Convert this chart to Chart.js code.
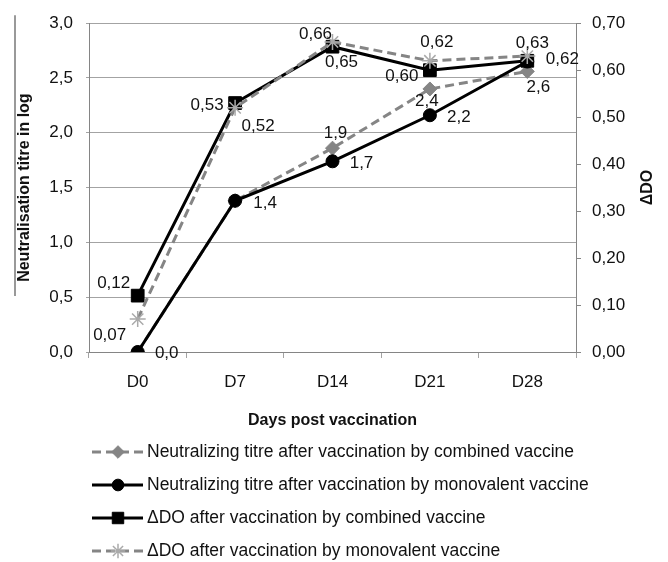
<!DOCTYPE html>
<html>
<head>
<meta charset="utf-8">
<script src="https://cdn.jsdelivr.net/npm/chart.js@4.4.1/dist/chart.umd.min.js"></script>
<style>
  body { margin: 0; background: #fff; }
  canvas { display: block; }
</style>
</head>
<body>
<canvas id="vaccine_chart" width="668" height="562"></canvas>
<script>
// data
const days = ['D0', 'D7', 'D14', 'D21', 'D28'];
const titreCombined = [0, 1.38, 1.86, 2.40, 2.56];
const titreMonovalent = [0, 1.38, 1.74, 2.16, 2.65];
const doCombined = [0.12, 0.53, 0.65, 0.60, 0.62];
const doMonovalent = [0.07, 0.52, 0.66, 0.62, 0.63];
const titreTicks = ['0,0', '0,5', '1,0', '1,5', '2,0', '2,5', '3,0'];
const doTicks = ['0,00', '0,10', '0,20', '0,30', '0,40', '0,50', '0,60', '0,70'];
const seriesNames = [
  'Neutralizing titre after vaccination by combined vaccine',
  'Neutralizing titre after vaccination by monovalent vaccine',
  '\u0394DO after vaccination by combined vaccine',
  '\u0394DO after vaccination by monovalent vaccine'
];

// where the value labels sit relative to each point (null = no label)
const labelOffsets = [
  [null, null, [3, -15], [-3, 12], [11, 16]],
  [[29, 1], [30, 3], [29, 2], [29, 2], null],
  [[-24, -12], [-28, 2], [9, 16], [-28, 6], [35, -1]],
  [[-28, 16], [23, 19], [-17, -8], [7, -18], [5, -13]]
];
const labelDecimals = [1, 1, 2, 2];

const FONT = "'Liberation Sans', Arial, sans-serif";
const GREY = '#858585';
const GRID = '#a3a3a3';

function fmt(v, d) {
  return v.toFixed(d).replace('.', ',');
}

// value labels, legend and the right axis title
const extras = {
  id: 'extras',
  afterDatasetsDraw(chart) {
    const ctx = chart.ctx;
    ctx.save();
    ctx.font = '17px ' + FONT;
    ctx.fillStyle = '#111';
    ctx.textAlign = 'center';
    ctx.textBaseline = 'middle';
    chart.data.datasets.forEach((ds, i) => {
      const meta = chart.getDatasetMeta(i);
      meta.data.forEach((pt, j) => {
        const off = labelOffsets[i][j];
        if (!off) return;
        ctx.fillText(fmt(ds.data[j], labelDecimals[i]), pt.x + off[0], pt.y + off[1]);
      });
    });
    ctx.restore();
  },
  afterDraw(chart) {
    const ctx = chart.ctx;
    const area = chart.chartArea;
    ctx.save();

    // right axis title, reads bottom to top
    ctx.font = 'bold 16px ' + FONT;
    ctx.fillStyle = '#111';
    ctx.textAlign = 'center';
    ctx.textBaseline = 'middle';
    ctx.translate(chart.width - 20, (area.top + area.bottom) / 2);
    ctx.rotate(-Math.PI / 2);
    ctx.fillText('\u0394DO', 0, 0);
    ctx.setTransform(1, 0, 0, 1, 0, 0);

    // stray rule beside the left title
    ctx.strokeStyle = '#777';
    ctx.lineWidth = 1.5;
    ctx.beginPath();
    ctx.moveTo(area.left - 74, area.top - 8);
    ctx.lineTo(area.left - 74, area.bottom - 56);
    ctx.stroke();

    // legend
    const top = area.bottom + 100;
    chart.data.datasets.forEach((ds, i) => {
      const y = top + i * 33;
      ctx.strokeStyle = ds.borderColor;
      ctx.lineWidth = ds.borderWidth;
      ctx.setLineDash(ds.borderDash || []);
      ctx.beginPath();
      ctx.moveTo(92, y);
      ctx.lineTo(143, y);
      ctx.stroke();
      ctx.setLineDash([]);
      ctx.fillStyle = ds.pointBackgroundColor;
      ctx.strokeStyle = ds.pointBorderColor;
      ctx.lineWidth = ds.pointBorderWidth;
      Chart.helpers.drawPoint(ctx, {
        pointStyle: ds.pointStyle,
        radius: ds.pointRadius * 0.9,
        borderWidth: ds.pointBorderWidth,
        rotation: 0
      }, 118, y);
      ctx.font = '17.5px ' + FONT;
      ctx.fillStyle = '#111';
      ctx.textAlign = 'left';
      ctx.textBaseline = 'middle';
      ctx.fillText(seriesNames[i], 147, y);
    });
    ctx.restore();
  }
};

const ctx = document.getElementById('vaccine_chart').getContext('2d');
new Chart(ctx, {
  type: 'line',
  data: {
    labels: days,
    datasets: [{
      label: seriesNames[0],
      data: titreCombined,
      yAxisID: 'y',
      borderColor: GREY,
      borderWidth: 3,
      borderDash: [9, 5],
      pointStyle: 'rectRot',
      pointRadius: 7,
      pointBackgroundColor: GREY,
      pointBorderColor: GREY,
      pointBorderWidth: 1,
      order: 4
    }, {
      label: seriesNames[1],
      data: titreMonovalent,
      yAxisID: 'y',
      borderColor: '#000',
      borderWidth: 3,
      pointStyle: 'circle',
      pointRadius: 6.5,
      pointBackgroundColor: '#000',
      pointBorderColor: '#000',
      pointBorderWidth: 1,
      order: 3
    }, {
      label: seriesNames[2],
      data: doCombined,
      yAxisID: 'y1',
      borderColor: '#000',
      borderWidth: 3,
      pointStyle: 'rect',
      pointRadius: 9,
      pointBackgroundColor: '#000',
      pointBorderColor: '#000',
      pointBorderWidth: 1,
      order: 2
    }, {
      label: seriesNames[3],
      data: doMonovalent,
      yAxisID: 'y1',
      borderColor: GREY,
      borderWidth: 3,
      borderDash: [9, 5],
      pointStyle: 'star',
      pointRadius: 8,
      pointBackgroundColor: '#aaa',
      pointBorderColor: '#aaa',
      pointBorderWidth: 1.5,
      order: 1
    }]
  },
  options: {
    responsive: false,
    animation: false,
    layout: { padding: { top: 22, bottom: 132, left: 0, right: 0 } },
    plugins: {
      legend: { display: false },
      tooltip: { enabled: false }
    },
    scales: {
      x: {
        offset: true,
        afterFit: s => { s.height = 78; },
        grid: { offset: true, drawOnChartArea: false, drawTicks: true, tickLength: 6, color: GRID },
        border: { color: GREY },
        ticks: { padding: 14, color: '#111', font: { family: FONT, size: 17 } },
        title: { display: true, text: 'Days post vaccination', color: '#111', padding: 0,
          font: { family: FONT, size: 16, weight: 'bold' } }
      },
      y: {
        position: 'left',
        min: 0, max: 3,
        afterFit: s => { s.width = 89; },
        ticks: { stepSize: 0.5, padding: 13, color: '#111', font: { family: FONT, size: 17 },
          callback: (v, i) => titreTicks[i] },
        grid: { color: GRID, tickLength: 3 },
        border: { color: GREY },
        title: { display: true, text: 'Neutralisation titre in log', color: '#111', padding: { top: 15 },
          font: { family: FONT, size: 16, weight: 'bold' } }
      },
      y1: {
        position: 'right',
        min: 0, max: 0.7,
        afterFit: s => { s.width = 92; },
        ticks: { stepSize: 0.1, padding: 11, color: '#111', font: { family: FONT, size: 17 },
          callback: (v, i) => doTicks[i] },
        grid: { drawOnChartArea: false, tickLength: 5, color: GREY },
        border: { color: GREY }
      }
    }
  },
  plugins: [extras]
});
</script>
</body>
</html>
